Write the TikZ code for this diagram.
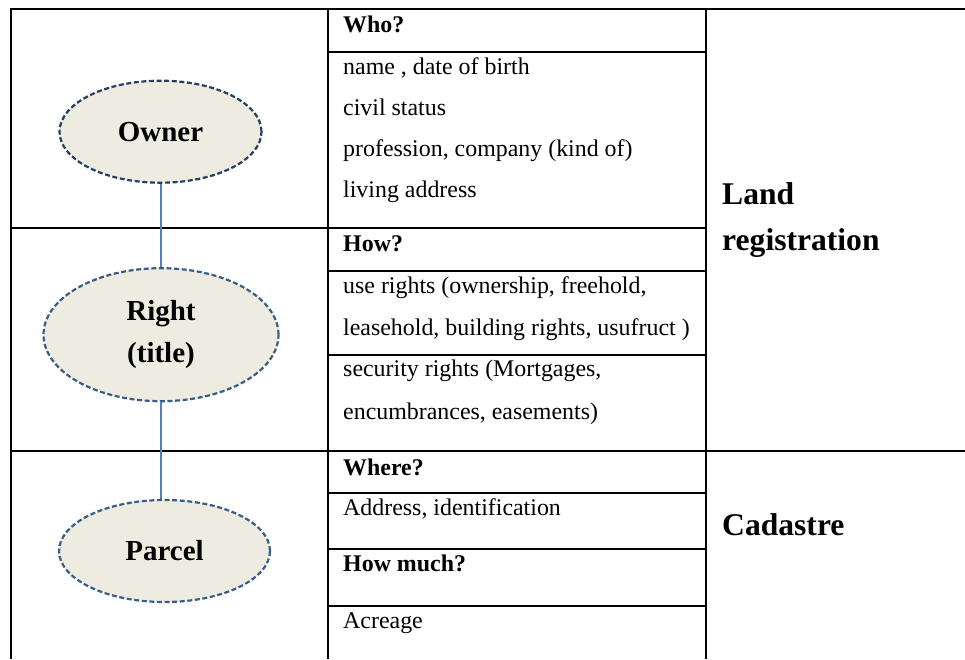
\documentclass[tikz,border=0pt]{standalone}
\usepackage{fontspec}
\setmainfont{Liberation Serif}
\usetikzlibrary{shapes.geometric}
\definecolor{paper}{HTML}{EEECE1}
\definecolor{rimdark}{HTML}{243F60}
\definecolor{rim}{HTML}{385D8A}
\definecolor{linkblue}{HTML}{4F81BD}
\begin{document}
\begin{tikzpicture}[x=1pt,y=-1pt,
  rule/.style={line width=2pt, black},
  entity/.style={ellipse, fill=paper, line width=2.2pt,
    dash pattern=on 5pt off 2.6pt, inner sep=0pt, align=center,
    font=\fontsize{29}{41.5}\selectfont\bfseries},
  cell/.style={anchor=base west, inner sep=0pt,
    font=\fontsize{23.9}{28}\selectfont},
  head/.style={cell, font=\fontsize{23.9}{28}\selectfont\bfseries},
  side/.style={anchor=base west, inner sep=0pt,
    font=\fontsize{31.6}{36}\selectfont\bfseries},
  tie/.style={line width=2pt, draw=linkblue}]
\useasboundingbox (0,0) rectangle (965,659);

% table frame
\draw[rule] (11,659) -- (11,9) -- (965,9);
\draw[rule] (327.5,9) -- (327.5,659);
\draw[rule] (706,9) -- (706,659);
\draw[rule] (11,228) -- (706,228);
\draw[rule] (11,451) -- (965,451);

% rows of the middle column
\foreach \y in {52,270.5,355,493,549,605.5}
  \draw[rule] (327.5,\y) -- (706,\y);

% middle column texts
\node[head] (who) at (343,32) {Who?};
\node[cell] (name) at (343,74) {name , date of birth};
\node[cell] (civil) at (343,115) {civil status};
\node[cell] (prof) at (343,156.5) {profession, company (kind of)};
\node[cell] (addr) at (343,197) {living address};

\node[head] (how) at (343,251.5) {How?};
\node[cell] (use1) at (343,293) {use rights (ownership, freehold,};
\node[cell] (use2) at (343,335) {leasehold, building rights, usufruct )};
\node[cell] (sec1) at (343,376.5) {security rights (Mortgages,};
\node[cell] (sec2) at (343,419) {encumbrances, easements)};

\node[head] (where) at (343,475) {Where?};
\node[cell] (ident) at (343,515) {Address, identification};
\node[head] (much) at (343,571.5) {How much?};
\node[cell] (acre) at (343,628) {Acreage};

% right column
\node[side] (land) at (722,204) {Land};
\node[side] (reg) at (722,250) {registration};
\node[side] (cad) at (722,535) {Cadastre};

% entities
\node[entity, draw=rimdark, minimum width=202pt, minimum height=102pt]
  (owner) at (160.5,131.7) {Owner};
\node[entity, draw=rim, minimum width=235pt, minimum height=133pt]
  (right) at (161,334.7) {Right\\(title)};
\node[entity, draw=rim, minimum width=211pt, minimum height=102pt]
  (parcel) at (164.5,551) {Parcel};

% links between entities
\draw[tie] (owner.south) -- (owner.south |- right.north);
\draw[tie] (right.south) -- (right.south |- parcel.north);
\end{tikzpicture}
\end{document}
